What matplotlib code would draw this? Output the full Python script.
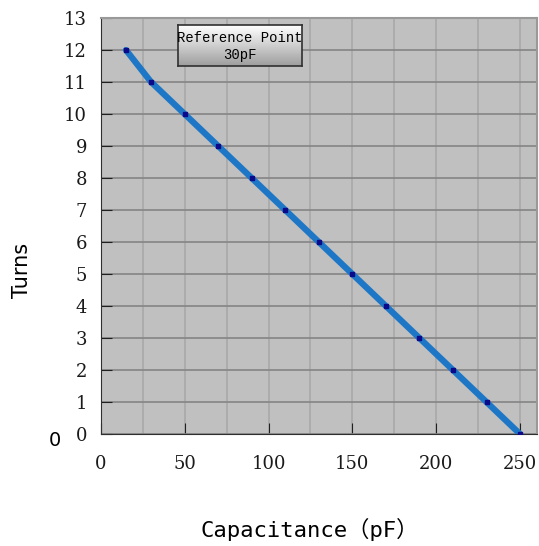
import numpy as np
import matplotlib
matplotlib.use('Agg')
import matplotlib.pyplot as plt

capacitance = [15, 30, 50, 70, 90, 110, 130, 150, 170, 190, 210, 230, 250]
turns = [12, 11, 10, 9, 8, 7, 6, 5, 4, 3, 2, 1, 0]
xticks = [0, 50, 100, 150, 200, 250]
yticks = list(range(0, 14))

fig = plt.figure(figsize=(5.39, 5.46), dpi=100)
ax = fig.add_axes([0.187, 0.205, 0.809, 0.762])
ax.set_facecolor('#c0c0c0')

ax.set_xlim(0, 260)
ax.set_ylim(0, 13)
ax.set_xticks(xticks)
ax.set_xticks(np.arange(0, 261, 25), minor=True)
ax.set_yticks(yticks)
ax.grid(which='minor', axis='x', color='#a8a8a8', lw=1.2)
ax.grid(which='major', axis='x', color='#a8a8a8', lw=1.2)
ax.grid(which='major', axis='y', color='#858585', lw=1.2)
ax.set_axisbelow(True)
ax.tick_params(which='major', direction='in', length=8, color='#202020',
               labelsize=13)
ax.tick_params(axis='x', pad=15)
ax.tick_params(axis='y', pad=10)
ax.tick_params(which='minor', length=0)
for t in ax.get_xticklabels() + ax.get_yticklabels():
    t.set_family('DejaVu Serif')
    t.set_color('#1a1a1a')
for s in ['left', 'bottom']:
    ax.spines[s].set_color('#303030')
for s in ['top', 'right']:
    ax.spines[s].set_color('#999999')
    ax.spines[s].set_linewidth(1.5)

ax.plot(capacitance, turns, color='#1d77c6', lw=4.5, solid_capstyle='round', zorder=3)
ax.plot(capacitance, turns, 's', ls='none', color='#0a0a8a', ms=3.5, zorder=4)

fig.text(0.04, 0.505, 'Turns', rotation=90, va='center', ha='center',
         fontsize=15, family=['DejaVu Sans', 'Noto Sans CJK SC'])
fig.text(0.575, 0.03, 'Capacitance（pF）', va='center', ha='center',
         fontsize=16, family=['DejaVu Sans Mono', 'Noto Sans CJK SC'])
fig.text(0.102, 0.194, '0', fontsize=14, ha='center', va='center',
         family='DejaVu Sans')

# reference point box with gradient
box = fig.add_axes([0.331, 0.879, 0.229, 0.075])
grad = np.linspace(1.0, 0.62, 64).reshape(-1, 1)
box.imshow(grad, cmap='gray', vmin=0, vmax=1, aspect='auto',
           extent=[0, 1, 0, 1])
box.set_xticks([])
box.set_yticks([])
for s in box.spines.values():
    s.set_color('#303030')
    s.set_linewidth(1.2)
box.text(0.5, 0.68, 'Reference Point', ha='center', va='center',
         fontsize=10, family='Liberation Mono', transform=box.transAxes)
box.text(0.5, 0.28, '30pF', ha='center', va='center',
         fontsize=10, family='Liberation Mono', transform=box.transAxes)

fig.savefig('out.png', dpi=100)
